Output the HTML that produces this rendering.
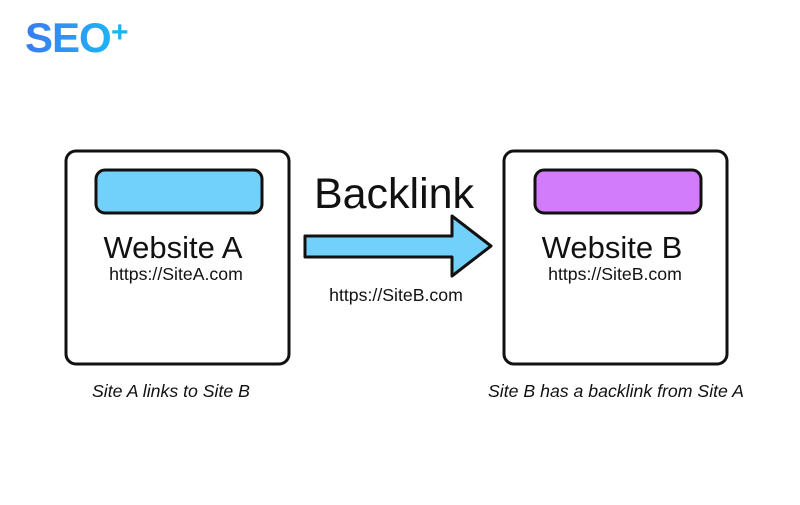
<!DOCTYPE html>
<html><head><style>
body{margin:0;width:800px;height:500px;background:#fff;overflow:hidden}
</style></head><body>
<svg width="800" height="500" xmlns="http://www.w3.org/2000/svg" font-family="Liberation Sans, sans-serif">
<defs><linearGradient id="g" x1="0" x2="1"><stop offset="0" stop-color="#3b7bf0"/><stop offset="1" stop-color="#1fb3f5"/></linearGradient></defs>
<text x="25" y="52" font-size="42" font-weight="bold" fill="url(#g)" letter-spacing="-1">SEO</text>
<text x="111" y="42" font-size="30" font-weight="bold" fill="#1fb3f5">+</text>
<rect x="66" y="151" width="223" height="213" rx="10" fill="#fff" stroke="#111" stroke-width="3"/>
<rect x="504" y="151" width="223" height="213" rx="10" fill="#fff" stroke="#111" stroke-width="3"/>
<rect x="96" y="170" width="166" height="43" rx="9" fill="#72d1fb" stroke="#111" stroke-width="3"/>
<rect x="535" y="170" width="166" height="43" rx="9" fill="#d27bfb" stroke="#111" stroke-width="3"/>
<text x="173" y="258" font-size="31" text-anchor="middle" fill="#111">Website A</text>
<text x="176" y="280" font-size="17.7" text-anchor="middle" fill="#111">https://SiteA.com</text>
<text x="612" y="258" font-size="31" text-anchor="middle" fill="#111">Website B</text>
<text x="615" y="280" font-size="17.7" text-anchor="middle" fill="#111">https://SiteB.com</text>
<text x="394" y="208" font-size="43" text-anchor="middle" fill="#111">Backlink</text>
<polygon points="305,236 452,236 452,216 491,246 452,276 452,257 305,257" fill="#72d1fb" stroke="#111" stroke-width="3" stroke-linejoin="round"/>
<text x="396" y="301" font-size="17.7" text-anchor="middle" fill="#111">https://SiteB.com</text>
<text x="92" y="397" font-size="17.7" font-style="italic" fill="#111">Site A links to Site B</text>
<text x="488" y="397" font-size="17.7" font-style="italic" fill="#111">Site B has a backlink from Site A</text>
</svg>
</body></html>
